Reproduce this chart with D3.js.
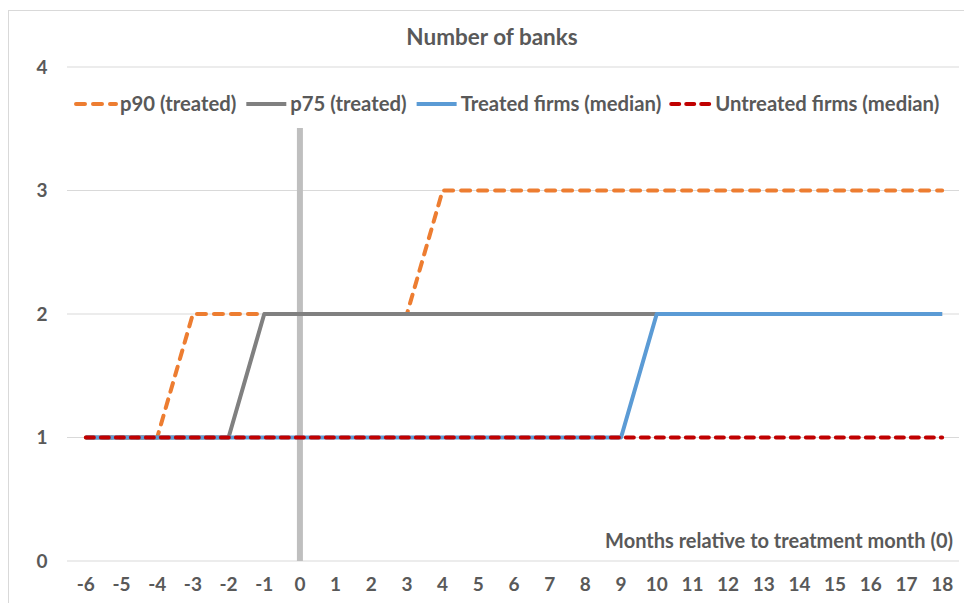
<!DOCTYPE html>
<html>
<head>
<meta charset="utf-8">
<script src="https://cdn.jsdelivr.net/npm/d3@7"></script>
<style>
  body { margin: 0; background: #fff; }
  text { font-family: Lato, "Open Sans", sans-serif; font-weight: bold; fill: #595959; }
</style>
</head>
<body>
<svg id="chart" width="964" height="603"></svg>
<script>
// months relative to treatment
const months = d3.range(-6, 19);
const p90 =       [1,1,1,2,2,2,2,2,2,2,3,3,3,3,3,3,3,3,3,3,3,3,3,3,3];
const p75 =       [1,1,1,1,1,2,2,2,2,2,2,2,2,2,2,2,2,2,2,2,2,2,2,2,2];
const treated =   [1,1,1,1,1,1,1,1,1,1,1,1,1,1,1,1,2,2,2,2,2,2,2,2,2];
const untreated = [1,1,1,1,1,1,1,1,1,1,1,1,1,1,1,1,1,1,1,1,1,1,1,1,1];
const yTicks = [0, 1, 2, 3, 4];

const series = [
  { name: 'p90 (treated)', values: p90, color: '#ed7d31', dash: '9,8' },
  { name: 'p75 (treated)', values: p75, color: '#808080', dash: null },
  { name: 'Treated firms (median)', values: treated, color: '#5b9bd5', dash: null },
  { name: 'Untreated firms (median)', values: untreated, color: '#c00000', dash: '8,7' }
];

const svg = d3.select('#chart');

// outer chart frame
svg.append('rect')
  .attr('x', 8.5).attr('y', 10.5)
  .attr('width', 980).attr('height', 620)
  .attr('fill', 'none').attr('stroke', '#d9d9d9');

const xScale = d3.scalePoint()
  .domain(months)
  .range([68, 960])
  .padding(0.5);

const yScale = d3.scaleLinear()
  .domain([0, 4])
  .range([561, 67]);

// gridlines
svg.append('g')
  .selectAll('line')
  .data(yTicks)
  .enter()
  .append('line')
  .attr('x1', 67).attr('x2', 959)
  .attr('y1', d => yScale(d)).attr('y2', d => yScale(d))
  .attr('stroke', '#d9d9d9')
  .attr('stroke-width', 1);

// y labels
svg.append('g')
  .selectAll('text')
  .data(yTicks)
  .enter()
  .append('text')
  .attr('x', 42)
  .attr('y', d => yScale(d))
  .attr('dy', '0.36em')
  .attr('text-anchor', 'middle')
  .style('font-size', '19px')
  .text(d => d);

// x labels
svg.append('g')
  .selectAll('text')
  .data(months)
  .enter()
  .append('text')
  .attr('x', d => xScale(d))
  .attr('y', 591)
  .attr('text-anchor', 'middle')
  .style('font-size', '19px')
  .text(d => d);

// treatment month marker
svg.append('line')
  .attr('x1', xScale(0)).attr('x2', xScale(0))
  .attr('y1', 128).attr('y2', yScale(0))
  .attr('stroke', '#bfbfbf')
  .attr('stroke-width', 6);

const line = d3.line()
  .x((d, i) => xScale(months[i]))
  .y(d => yScale(d));

svg.append('g')
  .selectAll('path')
  .data(series)
  .enter()
  .append('path')
  .attr('d', d => line(d.values))
  .attr('fill', 'none')
  .attr('stroke', d => d.color)
  .attr('stroke-width', 4)
  .attr('stroke-linecap', d => d.dash ? 'round' : 'butt')
  .attr('stroke-linejoin', 'round')
  .attr('stroke-dasharray', d => d.dash);

// title
svg.append('text')
  .attr('x', 492).attr('y', 45)
  .attr('text-anchor', 'middle')
  .style('font-size', '22.5px')
  .text('Number of banks');

// x axis title
svg.append('text')
  .attr('x', 953).attr('y', 548)
  .attr('text-anchor', 'end')
  .style('font-size', '20px')
  .text('Months relative to treatment month (0)');

// legend
const legend = svg.append('g');
let lx = 76;
series.forEach(s => {
  legend.append('line')
    .attr('x1', lx).attr('x2', lx + 40)
    .attr('y1', 104).attr('y2', 104)
    .attr('stroke', s.color)
    .attr('stroke-width', 4)
    .attr('stroke-linecap', s.dash ? 'round' : 'butt')
    .attr('stroke-dasharray', s.dash);
  const t = legend.append('text')
    .attr('x', lx + 44).attr('y', 104)
    .attr('dy', '0.36em')
    .style('font-size', '20.3px')
    .text(s.name);
  lx += 44 + t.node().getComputedTextLength() + 10;
});
</script>
</body>
</html>
